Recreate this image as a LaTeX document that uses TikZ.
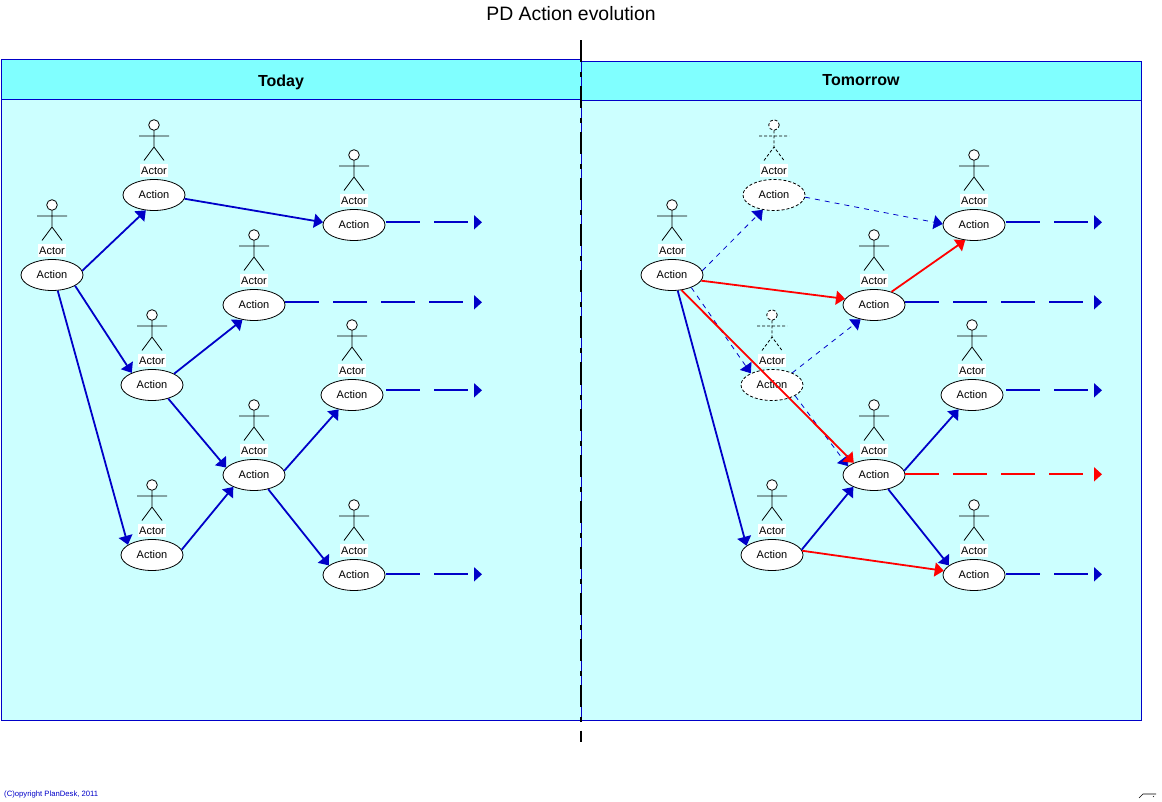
\documentclass[tikz,border=0pt]{standalone}
\usepackage{fontspec}
\setmainfont{Liberation Sans}
\usepackage{xcolor}
\usetikzlibrary{positioning,arrows.meta,calc,shapes.geometric}
\definecolor{pdblue}{RGB}{0,0,200}
\definecolor{pdhead}{RGB}{128,255,255}
\definecolor{pdbody}{RGB}{204,255,255}
\tikzset{
  x=1pt, y=-1pt,
  panelhead/.style={draw=pdblue, fill=pdhead, line width=1pt},
  panelbody/.style={draw=pdblue, fill=pdbody, line width=1pt},
  headtext/.style={font=\fontsize{16}{18}\selectfont\bfseries, inner sep=0pt},
  flowarrow/.style={-{Triangle[length=9pt,width=14pt]}, draw=pdblue, line width=1.8pt},
  redarrow/.style={flowarrow, draw=red},
  futurearrow/.style={flowarrow, line width=0.8pt, dash pattern=on 5pt off 5pt},
  outarrow/.style={-{Triangle[length=8pt,width=14pt]}, draw=pdblue, line width=1.8pt, dash pattern=on 34pt off 14pt},
  redout/.style={outarrow, draw=red},
  divider/.style={line width=2pt, dash pattern=on 22pt off 10pt on 5pt off 9pt},
  actionbox/.style={ellipse, draw, fill=white, line width=0.8pt, minimum width=62pt, minimum height=31pt, inner sep=0pt, font=\fontsize{11}{13}\selectfont},
  actorlabel/.style={fill=white, inner sep=1pt, minimum height=13pt, font=\fontsize{11}{13}\selectfont},
  actorfig/.pic={
    \draw[line width=0.8pt, pic actions] (0,-64.5) -- (0,-48) (-15,-59) -- (15,-59) (-10,-34.5) -- (0,-48) -- (10,-34.5);
    \draw[line width=0.8pt, fill=white, pic actions] (0,-70) circle (5.3);
    \node[actorlabel] (label) at (0,-24.5) {Actor};
  },
}
\begin{document}
\begin{tikzpicture}
  \useasboundingbox (0,-1) rectangle (1162,801);
  \node[font=\fontsize{19.4}{22}\selectfont, inner sep=0pt] (title) at (571,12.5) {PD Action evolution};
  % panels
  \draw[panelbody] (1,98.5) rectangle (581,719.5);
  \draw[panelhead] (1,58.5) rectangle (581,98.5);
  \draw[panelbody] (581,99.5) rectangle (1141,719.5);
  \draw[panelhead] (581,60.5) rectangle (1141,99.5);
  \node[headtext] (today) at (281,81) {Today};
  \node[headtext] (tomorrow) at (861,79) {Tomorrow};
  \coordinate (divtop) at (581,39.5);
  \coordinate (divbot) at (581,740.5);
  \draw[divider] (divtop) -- (divbot);
  % today
  \node[actionbox] (ta) at (52,274) {Action};
  \node[actionbox] (tb) at (154,194) {Action};
  \node[actionbox] (tc) at (354,224) {Action};
  \node[actionbox] (td) at (254,304) {Action};
  \node[actionbox] (te) at (152,384) {Action};
  \node[actionbox] (tf) at (352,394) {Action};
  \node[actionbox] (tg) at (254,474) {Action};
  \node[actionbox] (th) at (152,554) {Action};
  \node[actionbox] (ti) at (354,574) {Action};
  \pic (tafig) at (ta) {actorfig};
  \pic (tbfig) at (tb) {actorfig};
  \pic (tcfig) at (tc) {actorfig};
  \pic (tdfig) at (td) {actorfig};
  \pic (tefig) at (te) {actorfig};
  \pic (tffig) at (tf) {actorfig};
  \pic (tgfig) at (tg) {actorfig};
  \pic (thfig) at (th) {actorfig};
  \pic (tifig) at (ti) {actorfig};
  \coordinate (tcend) at (482,221.3);
  \coordinate (tdend) at (482,301.3);
  \coordinate (tfend) at (482,389.3);
  \coordinate (tiend) at (482,573.3);
  \draw[flowarrow] (ta.8) -- (tb.242);
  \draw[flowarrow] (tb.-7) -- (tc.175);
  \draw[flowarrow] (ta.-25) -- (te.149);
  \draw[flowarrow] (ta.-70) -- (th.157);
  \draw[flowarrow] (te.27) -- (td.232);
  \draw[flowarrow] (te.-40) -- (tg.165);
  \draw[flowarrow] (th.10) -- (tg.210);
  \draw[flowarrow] (tg.8) -- (tf.227);
  \draw[flowarrow] (tg.-45) -- (ti.159);
  \draw[outarrow] ([xshift=1pt]tc.east |- tcend) -- (tcend);
  \draw[outarrow] (td.east |- tdend) -- (tdend);
  \draw[outarrow] ([xshift=3pt]tf.east |- tfend) -- (tfend);
  \draw[outarrow] ([xshift=1pt]ti.east |- tiend) -- (tiend);
  % tomorrow
  \node[actionbox] (na) at (672,274) {Action};
  \node[actionbox, densely dashed] (nb) at (774,194) {Action};
  \node[actionbox] (nc) at (974,224) {Action};
  \node[actionbox] (nd) at (874,304) {Action};
  \node[actionbox, densely dashed] (ne) at (772,384) {Action};
  \node[actionbox] (nf) at (972,394) {Action};
  \node[actionbox] (ng) at (874,474) {Action};
  \node[actionbox] (nh) at (772,554) {Action};
  \node[actionbox] (ni) at (974,574) {Action};
  \pic (nafig) at (na) {actorfig};
  \pic[densely dashed] (nbfig) at (nb) {actorfig};
  \pic (ncfig) at (nc) {actorfig};
  \pic (ndfig) at (nd) {actorfig};
  \pic[densely dashed] (nefig) at (ne) {actorfig};
  \pic (nffig) at (nf) {actorfig};
  \pic (ngfig) at (ng) {actorfig};
  \pic (nhfig) at (nh) {actorfig};
  \pic (nifig) at (ni) {actorfig};
  \coordinate (ncend) at (1102,221.3);
  \coordinate (ndend) at (1102,301.3);
  \coordinate (nfend) at (1102,389.3);
  \coordinate (ngend) at (1102,473.3);
  \coordinate (niend) at (1102,573.3);
  \draw[futurearrow] (na.8) -- (nb.233);
  \draw[futurearrow] (nb.-4) -- (nc.178);
  \draw[futurearrow] (na.-33) -- (ne.151);
  \draw[futurearrow] (ne.-25) -- (ng.161);
  \draw[futurearrow] (ne.31) -- (nd.227);
  \draw[flowarrow] (na.-70) -- (nh.160);
  \draw[flowarrow] (nh.10) -- (ng.210);
  \draw[flowarrow] (ng.8) -- (nf.227);
  \draw[flowarrow] (ng.-45) -- (ni.159);
  \draw[redarrow] (na.-11) -- (nd.168);
  \draw[redarrow] (nd.37) -- (nc.240);
  \draw[redarrow] (na.-58) -- (ng.149);
  \draw[redarrow] (nh.8) -- (ni.172);
  \draw[outarrow] ([xshift=1pt]nc.east |- ncend) -- (ncend);
  \draw[outarrow] (nd.east |- ndend) -- (ndend);
  \draw[outarrow] ([xshift=3pt]nf.east |- nfend) -- (nfend);
  \draw[redout] (ng.east |- ngend) -- (ngend);
  \draw[outarrow] ([xshift=1pt]ni.east |- niend) -- (niend);
  % footer
  \node[font=\fontsize{7.7}{9}\selectfont, text=pdblue, anchor=west, inner sep=0pt] (copyright) at (4,794) {(C)opyright PlanDesk, 2011};
  \draw[line width=0.6pt] (1139,797) -- (1143,793) -- (1156,793) (1153,796) -- (1154,795);
\end{tikzpicture}
\end{document}
